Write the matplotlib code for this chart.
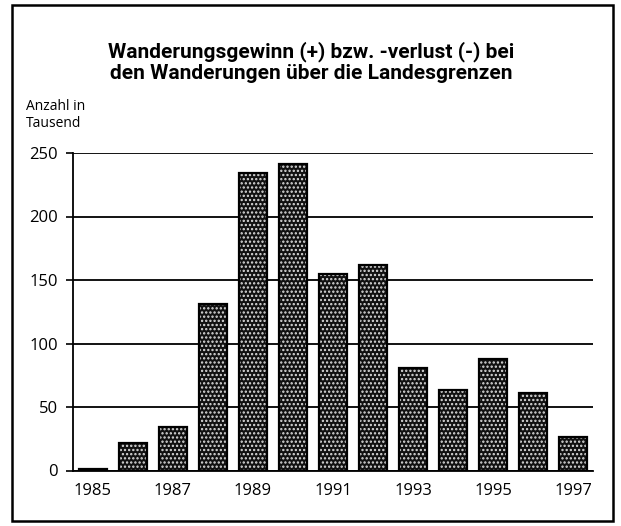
import matplotlib
matplotlib.use("Agg")
import matplotlib.pyplot as plt
from matplotlib.patches import Rectangle

years = [1985, 1986, 1987, 1988, 1989, 1990, 1991, 1992, 1993, 1994, 1995, 1996, 1997]
values = [1, 22, 34.5, 131, 234, 241.5, 155, 162, 81, 63.5, 87.5, 61, 26]
yticks = [0, 50, 100, 150, 200, 250]
xtick_years = [1985, 1987, 1989, 1991, 1993, 1995, 1997]
title = "Wanderungsgewinn (+) bzw. -verlust (-) bei\nden Wanderungen über die Landesgrenzen"
ylabel = "Anzahl in\nTausend"

plt.rcParams['font.family'] = ['Open Sans', 'DejaVu Sans']
plt.rcParams['hatch.linewidth'] = 1.1

W, H = 621, 526
fig = plt.figure(figsize=(W / 100, H / 100), dpi=100)

# outer frame
fig.patches.append(Rectangle((12 / W, 1 - 521 / H), (613 - 12) / W, (521 - 5) / H,
                             transform=fig.transFigure, fill=False, edgecolor='black',
                             linewidth=1.8))

ax_l, ax_r, ax_t, ax_b = 73, 593, 153, 470.5
ax = fig.add_axes([ax_l / W, 1 - ax_b / H, (ax_r - ax_l) / W, (ax_b - ax_t) / H])

x = list(range(len(years)))
ax.bar(x, values, width=0.7, color='#111111', edgecolor='#dddddd', hatch='....',
       linewidth=0, zorder=3)
ax.bar(x, values, width=0.7, fill=False, edgecolor='black', linewidth=1.6, zorder=4)

ax.set_xlim(-0.5, len(years) - 0.5)
ax.set_ylim(0, 250)
ax.set_yticks(yticks)
ax.set_yticklabels([str(v) for v in yticks], fontsize=12)
ax.set_xticks([years.index(yv) for yv in xtick_years])
ax.set_xticklabels([str(yv) for yv in xtick_years], fontsize=12)
ax.tick_params(axis='y', length=5, width=1.2, pad=6, direction='out')
ax.tick_params(axis='x', length=0, pad=9)
ax.yaxis.grid(True, color='black', linewidth=1.3, zorder=1)
ax.set_axisbelow(True)
for s in ['top', 'right']:
    ax.spines[s].set_visible(False)
ax.spines['left'].set_linewidth(1.3)
ax.spines['bottom'].set_linewidth(1.3)
ax.spines['bottom'].set_zorder(5)

fig.text(311 / W, 1 - 62 / H, title, ha='center', va='center', fontsize=15,
         fontweight='bold', family=['Roboto', 'DejaVu Sans'], linespacing=1.1)
fig.text(26 / W, 1 - 115 / H, ylabel, ha='left', va='center', fontsize=10,
         linespacing=1.1)

fig.savefig('out.png', dpi=100)
